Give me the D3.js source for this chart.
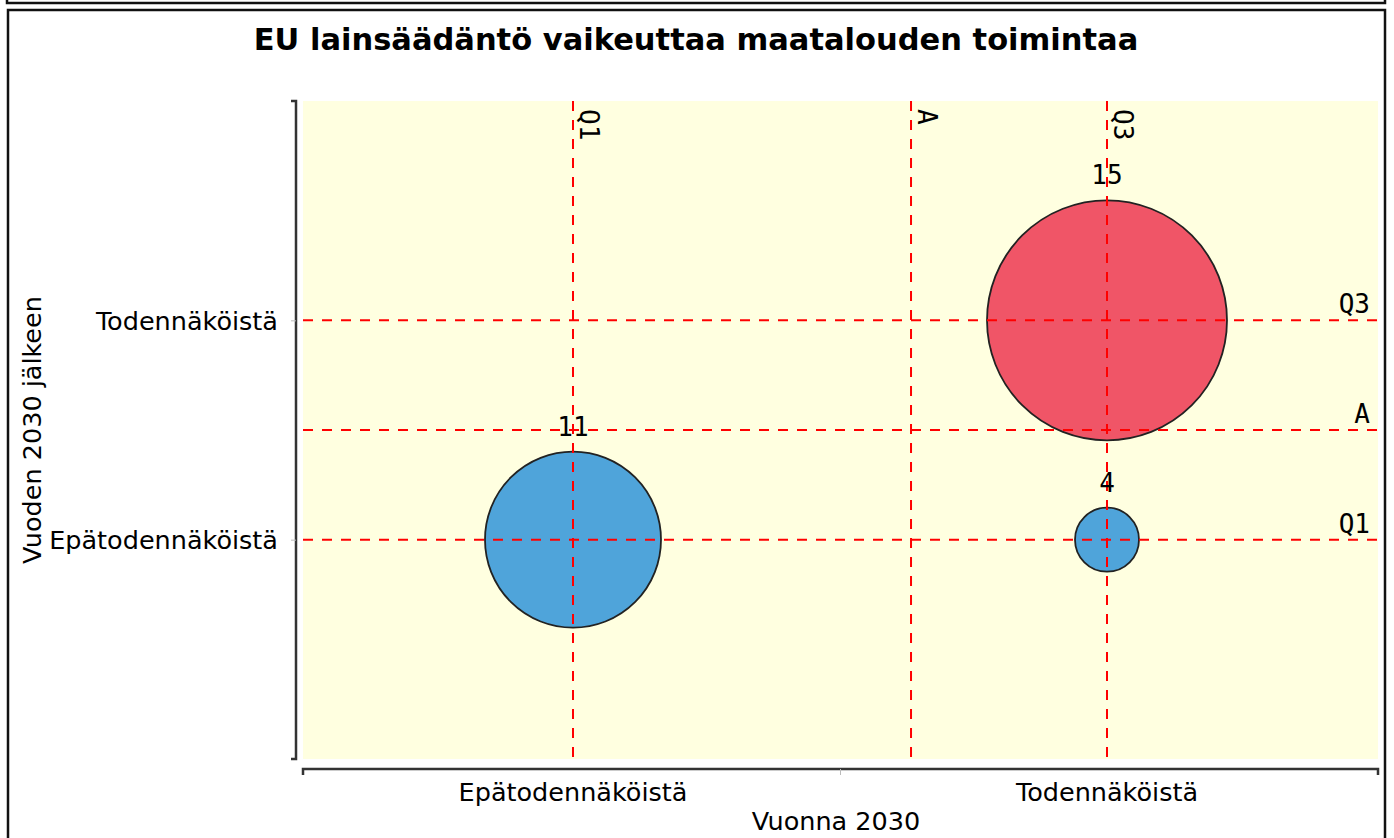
<!DOCTYPE html>
<html><head><meta charset="utf-8">
<script src="https://cdn.jsdelivr.net/npm/d3@7"></script>
<style>
html,body{margin:0;padding:0;background:#fff;}
svg{display:block;}
</style></head>
<body>
<svg id="c" width="1394" height="838"></svg>
<script>
const title = "EU lainsäädäntö vaikeuttaa maatalouden toimintaa";
const xAxisTitle = "Vuonna 2030";
const yAxisTitle = "Vuoden 2030 jälkeen";
const categories = ["Epätodennäköistä", "Todennäköistä"];
const bubbleX = ["Epätodennäköistä", "Todennäköistä", "Todennäköistä"];
const bubbleY = ["Epätodennäköistä", "Todennäköistä", "Epätodennäköistä"];
const bubbleValues = [11, 15, 4];
const bubbleColors = ["#4fa4da", "#f05567", "#4fa4da"];
const refLabels = ["Q1", "A", "Q3"];
const refXValues = [1, 1.633, 2];
const refYValues = [1, 1.5, 2];

const svg = d3.select("#c");
const plot = {x0: 303, x1: 1378, y0: 101, y1: 759};
const sans = "'DejaVu Sans', sans-serif";
const mono = "'DejaVu Sans Mono', monospace";
const FS = 25.5;

// frames
svg.append("rect").attr("x", 7).attr("y", -20).attr("width", 1378).attr("height", 23)
  .attr("fill", "none").attr("stroke", "#111").attr("stroke-width", 2.5);
svg.append("rect").attr("x", 8).attr("y", 10).attr("width", 1377).attr("height", 860)
  .attr("fill", "#fff").attr("stroke", "#111").attr("stroke-width", 2.5);

const catIndex = c => categories.indexOf(c) + 1;
const x = d3.scaleLinear().domain([0.5, 2.5]).range([306, 1374]);
const y = d3.scaleLinear().domain([0, 3]).range([plot.y1, plot.y0]);
const r = d3.scaleLinear().domain([0, 15]).range([0, 120]);

// plot background
svg.append("rect").attr("x", plot.x0).attr("y", plot.y0)
  .attr("width", plot.x1 - plot.x0).attr("height", plot.y1 - plot.y0)
  .attr("fill", "#ffffe0");

// title
svg.append("text").attr("x", 696).attr("y", 50).attr("text-anchor", "middle")
  .attr("font-family", sans).attr("font-weight", "bold").attr("font-size", 30.5)
  .attr("fill", "#000").text(title);

// y axis
const yAxisG = svg.append("g").attr("transform", `translate(${plot.x0 - 7},0)`);
const yAxis = d3.axisLeft(y).tickValues([1, 2]).tickFormat(d => categories[d - 1]).tickSize(5).tickPadding(13);
yAxisG.call(yAxis);
yAxisG.select(".domain").attr("stroke", "#333").attr("stroke-width", 2.5)
  .attr("d", `M-5,${plot.y0}H0V${plot.y1}H-5`);
yAxisG.selectAll(".tick line").attr("stroke", "#bbb");
yAxisG.selectAll(".tick text").attr("font-family", sans).attr("font-size", FS).attr("fill", "#000")
  .attr("dy", "0.35em");

// x axis
const xAxisG = svg.append("g").attr("transform", `translate(0,${plot.y1 + 10})`);
const xAxis = d3.axisBottom(x).tickValues([1.5]).tickFormat("").tickSize(6);
xAxisG.call(xAxis);
xAxisG.select(".domain").attr("stroke", "#333").attr("stroke-width", 2.5)
  .attr("d", `M${plot.x0},6V0H${plot.x1}V6`);
xAxisG.selectAll(".tick line").attr("stroke", "#bbb");
xAxisG.selectAll(".cat").data(categories).enter().append("text")
  .attr("x", d => x(catIndex(d))).attr("y", 32).attr("text-anchor", "middle")
  .attr("font-family", sans).attr("font-size", FS).attr("fill", "#000").text(d => d);

// axis titles
svg.append("text").attr("x", x(1.5) - 4).attr("y", 830).attr("text-anchor", "middle")
  .attr("font-family", sans).attr("font-size", FS).attr("fill", "#000").text(xAxisTitle);
svg.append("text").attr("transform", `translate(41,${y(1.5)}) rotate(-90)`).attr("text-anchor", "middle")
  .attr("font-family", sans).attr("font-size", FS).attr("fill", "#000").text(yAxisTitle);

// bubbles
const bubbles = bubbleValues.map((v, i) => ({v, cx: catIndex(bubbleX[i]), cy: catIndex(bubbleY[i]), color: bubbleColors[i]}));
svg.append("g").selectAll("circle").data(bubbles).enter().append("circle")
  .attr("cx", d => x(d.cx)).attr("cy", d => y(d.cy)).attr("r", d => r(d.v))
  .attr("fill", d => d.color).attr("stroke", "#222").attr("stroke-width", 1.8);

// reference lines
const refG = svg.append("g");
refG.selectAll(".vl").data(refXValues).enter().append("line")
  .attr("x1", d => x(d)).attr("x2", d => x(d)).attr("y1", plot.y0).attr("y2", plot.y1)
  .attr("stroke", "#ff0000").attr("stroke-width", 2).attr("stroke-dasharray", "10,9");
refG.selectAll(".hl").data(refYValues).enter().append("line")
  .attr("x1", plot.x0).attr("x2", plot.x1).attr("y1", d => y(d)).attr("y2", d => y(d))
  .attr("stroke", "#ff0000").attr("stroke-width", 2).attr("stroke-dasharray", "10,9");
refG.selectAll(".vt").data(refXValues).enter().append("text")
  .attr("transform", d => `translate(${x(d) + 7},${plot.y0 + 8}) rotate(90)`)
  .attr("font-family", mono).attr("font-size", 26).attr("fill", "#000")
  .text((d, i) => refLabels[i]);
refG.selectAll(".ht").data(refYValues).enter().append("text")
  .attr("x", 1370).attr("y", d => y(d) - 7).attr("text-anchor", "end")
  .attr("font-family", mono).attr("font-size", 26).attr("fill", "#000")
  .text((d, i) => refLabels[i]);

// bubble labels
svg.append("g").selectAll("text").data(bubbles).enter().append("text")
  .attr("x", d => x(d.cx)).attr("y", d => y(d.cy) - r(d.v) - 16).attr("text-anchor", "middle")
  .attr("font-family", mono).attr("font-size", 26).attr("fill", "#000").text(d => d.v);
</script>
</body></html>
